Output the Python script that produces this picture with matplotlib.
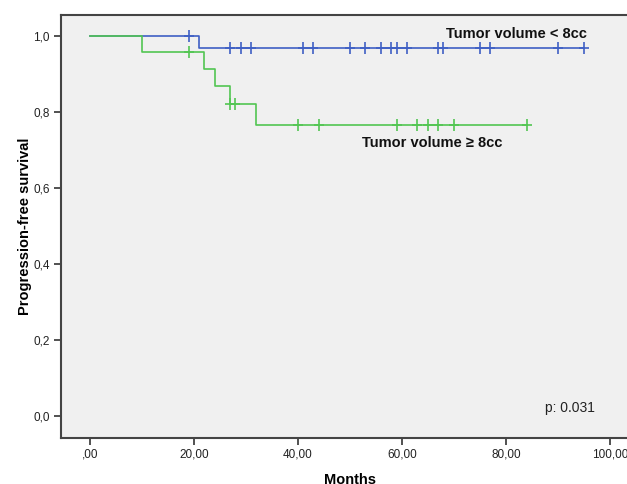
import matplotlib
matplotlib.use("Agg")
import matplotlib.pyplot as plt

plt.rcParams['font.family'] = ['Liberation Sans', 'DejaVu Sans']

# Kaplan-Meier steps (time, survival after step)
small_times = [0, 21]
small_surv = [1.0, 0.967]
small_end = 95
small_cens_t = [19, 27, 29, 31, 41, 43, 50, 53, 56, 58, 59, 61, 67, 68, 75, 77, 90, 95]

large_times = [0, 10, 22, 24, 27, 32]
large_surv = [1.0, 0.956, 0.912, 0.867, 0.82, 0.766]
large_end = 84
large_cens_t = [19, 27, 28, 40, 44, 59, 63, 65, 67, 70, 84]

xticks = [0, 20, 40, 60, 80, 100]
xticklabels = [',00', '20,00', '40,00', '60,00', '80,00', '100,00']
yticks = [0.0, 0.2, 0.4, 0.6, 0.8, 1.0]
yticklabels = ['0,0', '0,2', '0,4', '0,6', '0,8', '1,0']

blue = '#3F5FC4'
green = '#52C552'

fig = plt.figure(figsize=(6.27, 4.84), dpi=100)
ax = fig.add_axes([0.0968, 0.0957, 0.924, 0.873])
ax.set_facecolor('#F0F0F0')


def surv_at(times, surv, t):
    s = surv[0]
    for ti, si in zip(times, surv):
        if t >= ti:
            s = si
    return s


def draw(times, surv, end, cens, color):
    xs = list(times) + [end]
    ys = list(surv) + [surv[-1]]
    ax.step(xs, ys, where='post', color=color, lw=1.2, zorder=2)
    cy = [surv_at(times, surv, t) for t in cens]
    ax.plot(cens, cy, ls='none', marker='|', ms=9, mew=1.2, color=color, zorder=3)
    ax.plot(cens, cy, ls='none', marker='_', ms=7, mew=1.2, color=color, zorder=3)


draw(small_times, small_surv, small_end, small_cens_t, blue)
draw(large_times, large_surv, large_end, large_cens_t, green)

ax.set_xlim(-5.6, 105.8)
ax.set_ylim(-0.058, 1.054)
ax.set_xticks(xticks)
ax.set_xticklabels(xticklabels, fontsize=8.5)
ax.set_yticks(yticks)
ax.set_yticklabels(yticklabels, fontsize=8.5)
ax.tick_params(direction='out', length=5, width=1.2, color='#333333', labelcolor='#222222', pad=3)
for s in ax.spines.values():
    s.set_color('#444444')
    s.set_linewidth(1.5)

ax.set_xlabel('Months', fontsize=10.5, fontweight='bold', labelpad=9)
ax.set_ylabel('Progression-free survival', fontsize=10.5, fontweight='bold', labelpad=1)

fig.text(516 / 627, 1 - 34 / 484, 'Tumor volume < 8cc', fontsize=10.5, fontweight='bold',
         ha='center', va='center', color='#111111')
fig.text(432 / 627, 1 - 143 / 484, 'Tumor volume \u2265 8cc', fontsize=10.5, fontweight='bold',
         ha='center', va='center', color='#111111')
fig.text(570 / 627, 1 - 408 / 484, 'p: 0.031', fontsize=10, ha='center', va='center', color='#222222')

fig.savefig('out.png', dpi=100, facecolor='white')
